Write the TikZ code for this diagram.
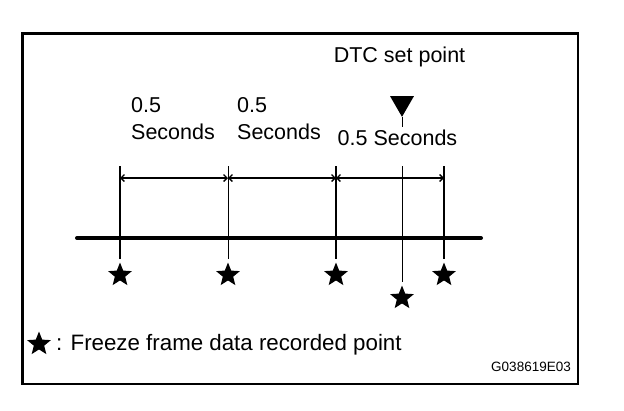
\documentclass[tikz,border=0pt]{standalone}
\usepackage{fontspec}
\setmainfont{Liberation Sans}
\usetikzlibrary{shapes.geometric,arrows.meta}
\begin{document}
\begin{tikzpicture}[x=1pt, y=-1pt,
  lbl/.style={inner sep=0pt, font=\fontsize{21.5}{27}\selectfont},
  frzstar/.style={star, star points=5, star point ratio=2.3, fill=black, inner sep=0pt, minimum size=25pt},
  vline/.style={line width=1.8pt, shorten >=3pt},
  thinline/.style={line width=1pt, shorten >=3pt},
  dimarrow/.style={line width=1.3pt, {Straight Barb[length=3.5pt,width=7pt]}-{Straight Barb[length=3.5pt,width=7pt]}}]
\useasboundingbox (0,0) rectangle (624,410);
\draw[line width=2.7pt] (22.5,33.5) rectangle (578,384);
\coordinate (tl) at (77,238);
\coordinate (tr) at (481,238);
\draw[line width=4pt, line cap=round] (tl) -- (tr);
\node[frzstar] (s1) at (120,275) {};
\node[frzstar] (s2) at (228,275) {};
\node[frzstar] (s3) at (336,275) {};
\node[frzstar] (s4) at (444,275) {};
\node[frzstar] (s5) at (402,298) {};
\coordinate (t1) at (120,166);
\coordinate (t2) at (228,166);
\coordinate (t3) at (336,166);
\coordinate (t4) at (444,166);
\coordinate (t5) at (402,166);
\draw[vline] (t1) -- (s1.north);
\draw[thinline] (t2) -- (s2.north);
\draw[vline] (t3) -- (s3.north);
\draw[vline] (t4) -- (s4.north);
\draw[thinline] (t5) -- (s5.north);
\coordinate (a1) at (120,178);
\coordinate (a2) at (228,178);
\coordinate (a3) at (336,178);
\coordinate (a4) at (444,178);
\draw[dimarrow] (a1) -- (a2);
\draw[dimarrow] (a2) -- (a3);
\draw[dimarrow] (a3) -- (a4);
\node[regular polygon, regular polygon sides=3, shape border rotate=180, fill=black, inner sep=0pt, minimum size=27.7pt] (dtc) at (402,103) {};
\coordinate (dtcb) at (402,127);
\draw[line width=1pt] (dtc.corner 1) -- (dtcb);
\node[lbl, anchor=base] (dtclbl) at (399.5,62) {DTC set point};
\node[lbl, anchor=north west, align=left] (p1) at (131,97) {0.5\\Seconds};
\node[lbl, anchor=north west, align=left] (p2) at (237,97) {0.5\\Seconds};
\node[lbl, anchor=base] (p3) at (397.5,145) {0.5 Seconds};
\node[frzstar] (key) at (39,344) {};
\node[lbl, anchor=base west, font=\fontsize{22.3}{26}\selectfont] (keylbl) at (56,350) {: Freeze frame data recorded point};
\node[inner sep=0pt, anchor=base east, font=\fontsize{13.5}{16}\selectfont] (code) at (571,371) {G038619E03};
\end{tikzpicture}
\end{document}
